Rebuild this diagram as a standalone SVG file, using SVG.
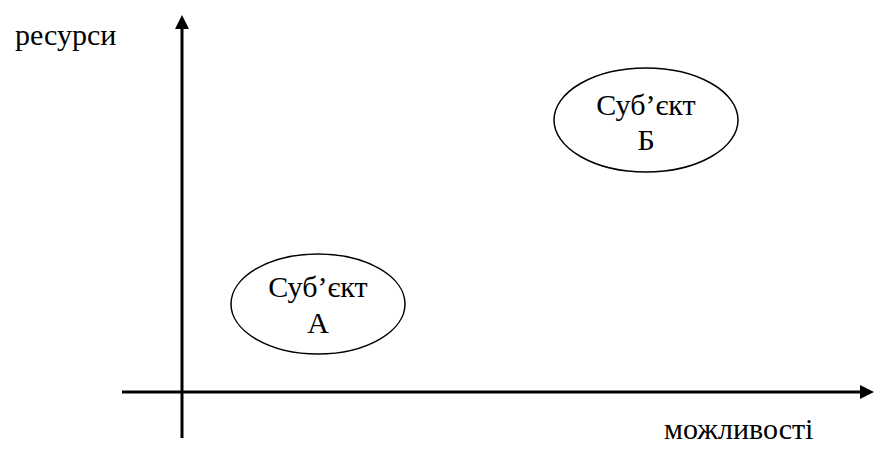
<svg xmlns="http://www.w3.org/2000/svg" width="882" height="451" viewBox="0 0 882 451">
<style>
.ax{stroke:#000;stroke-width:3;fill:none}
.nd{stroke:#000;stroke-width:1.5;fill:#fff}
.t{font-family:'Liberation Serif','Times New Roman',serif;font-size:30px;fill:#000}
.c{text-anchor:middle}
</style>
<defs>
<marker id="ah" markerWidth="14" markerHeight="14" viewBox="0 0 14 14" refX="4" refY="7" orient="auto" markerUnits="userSpaceOnUse">
<path d="M0,0 L14,7 L0,14 z" fill="#000"/>
</marker>
</defs>
<g id="connectors">
<line class="ax" x1="182" y1="438" x2="182" y2="25" marker-end="url(#ah)"/>
<line class="ax" x1="122" y1="392" x2="864" y2="392" marker-end="url(#ah)"/>
</g>
<g id="label-resources"><text class="t" x="15" y="45">ресурси</text></g>
<g id="label-possibilities"><text class="t" x="664" y="439">можливості</text></g>
<g id="node-a">
<ellipse class="nd" cx="318" cy="304" rx="87" ry="50"/>
<text class="t c" x="318" y="297">Суб’єкт</text>
<text class="t c" x="318" y="333">А</text>
</g>
<g id="node-b">
<ellipse class="nd" cx="646" cy="120" rx="92" ry="52"/>
<text class="t c" x="646" y="115">Суб’єкт</text>
<text class="t c" x="646" y="150">Б</text>
</g>
</svg>
